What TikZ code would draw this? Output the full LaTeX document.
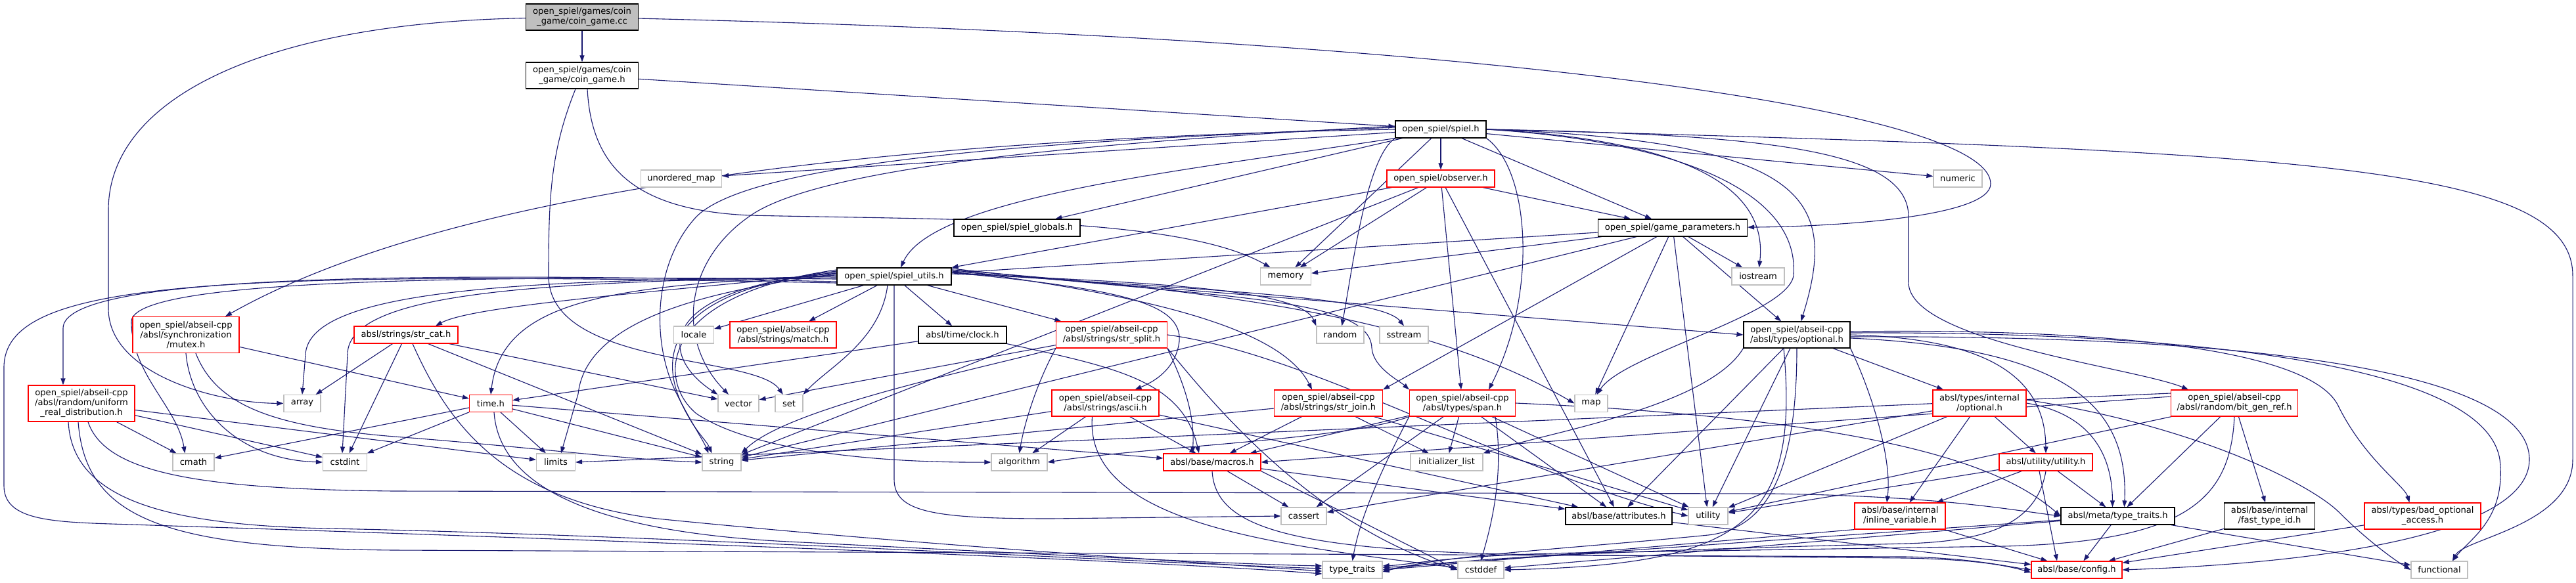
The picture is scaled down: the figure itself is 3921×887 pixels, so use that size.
\documentclass[tikz,border=0pt]{standalone}
\usepackage{fontspec}
\newfontfamily\dvs{DejaVu Sans}
\usetikzlibrary{arrows.meta}
\definecolor{edgec}{HTML}{191970}
\definecolor{extgray}{HTML}{BFBFBF}
\definecolor{rootgray}{HTML}{BFBFBF}
\pgfdeclarelayer{back}
\pgfdeclarelayer{edges}
\pgfsetlayers{back,edges,main}
\tikzset{
 box/.style={rectangle, inner sep=0pt, align=center, font=\dvs\fontsize{13.1pt}{15pt}\selectfont, line width=1.2pt, minimum height=26, fill=white},
 ext/.style={box, draw=extgray},
 trunc/.style={box, draw=red},
 full/.style={box, draw=black},
 root/.style={box, draw=black, fill=rootgray},
 e/.style={draw=edgec, line width=1.1pt, -{Triangle[length=10pt,width=7pt]}},
}
\begin{document}
\begin{tikzpicture}[x=1pt,y=-1pt]
\useasboundingbox (0,0) rectangle (3921,887);
\begin{pgfonlayer}{back}\fill[white] (0,0) rectangle (3921,887);\end{pgfonlayer}
% nodes
\node[root, minimum width=171, minimum height=40] (cc) at (886,26) {open\_spiel/games/coin\\\_game/coin\_game.cc};
\node[full, minimum width=171, minimum height=40] (ch) at (886,115) {open\_spiel/games/coin\\\_game/coin\_game.h};
\node[full, minimum width=138] (spiel) at (2193,197) {open\_spiel/spiel.h};
\node[trunc, minimum width=164] (obs) at (2193,272) {open\_spiel/observer.h};
\node[ext, minimum width=123] (umap) at (1037,272) {unordered\_map};
\node[ext, minimum width=74] (numeric) at (2980,272) {numeric};
\node[full, minimum width=192] (glob) at (1548,347) {open\_spiel/spiel\_globals.h};
\node[full, minimum width=174] (utils) at (1361,421) {open\_spiel/spiel\_utils.h};
\node[ext, minimum width=77] (memory) at (1957,421) {memory};
\node[full, minimum width=227] (gp) at (2546,347) {open\_spiel/game\_parameters.h};
\node[ext, minimum width=80] (iostream) at (2676,421) {iostream};
\node[ext, minimum width=72] (random) at (2040,510) {random};
\node[ext, minimum width=74] (sstream) at (2137,510) {sstream};
\node[full, minimum width=162, minimum height=40] (opt) at (2735,510) {open\_spiel/abseil-cpp\\/absl/types/optional.h};
\node[ext, minimum width=61] (locale) at (1056,510) {locale};
\node[trunc, minimum width=162, minimum height=40] (match) at (1192,510) {open\_spiel/abseil-cpp\\/absl/strings/match.h};
\node[full, minimum width=134] (clock) at (1465,510) {absl/time/clock.h};
\node[trunc, minimum width=169, minimum height=40] (split) at (1692,510) {open\_spiel/abseil-cpp\\/absl/strings/str\_split.h};
\node[trunc, minimum width=162, minimum height=55] (mutex) at (283,510) {open\_spiel/abseil-cpp\\/absl/synchronization\\/mutex.h};
\node[trunc, minimum width=158] (strcat) at (618,510) {absl/strings/str\_cat.h};
\node[trunc, minimum width=162, minimum height=55] (uniform) at (124,614.5) {open\_spiel/abseil-cpp\\/absl/random/uniform\\\_real\_distribution.h};
\node[ext, minimum width=56] (array) at (460,614.5) {array};
\node[trunc, minimum width=65] (time) at (747,614.5) {time.h};
\node[ext, minimum width=63] (cmath) at (294.5,704) {cmath};
\node[ext, minimum width=67] (cstdint) at (525,704) {cstdint};
\node[ext, minimum width=59] (limits) at (846,704) {limits};
\node[ext, minimum width=62] (vector) at (1124,614.5) {vector};
\node[ext, minimum width=42] (set) at (1201,614.5) {set};
\node[ext, minimum width=59] (string) at (1098.5,704) {string};
\node[ext, minimum width=85] (algorithm) at (1551.5,704) {algorithm};
\node[trunc, minimum width=163, minimum height=40] (ascii) at (1682.5,614) {open\_spiel/abseil-cpp\\/absl/strings/ascii.h};
\node[trunc, minimum width=148] (macros) at (1845,704) {absl/base/macros.h};
\node[trunc, minimum width=165, minimum height=40] (join) at (2022,614) {open\_spiel/abseil-cpp\\/absl/strings/str\_join.h};
\node[trunc, minimum width=161, minimum height=40] (span) at (2226,614) {open\_spiel/abseil-cpp\\/absl/types/span.h};
\node[ext, minimum width=50] (map) at (2422,614.5) {map};
\node[ext, minimum width=110] (initlist) at (2202,704) {initializer\_list};
\node[ext, minimum width=69] (cassert) at (1984.5,786) {cassert};
\node[full, minimum width=162] (attr) at (2464,786) {absl/base/attributes.h};
\node[ext, minimum width=60] (utility) at (2600,786) {utility};
\node[trunc, minimum width=138, minimum height=40] (inlinevar) at (2892,786) {absl/base/internal\\/inline\_variable.h};
\node[ext, minimum width=91] (typetraits) at (2058.5,868) {type\_traits};
\node[ext, minimum width=70] (cstddef) at (2254,868) {cstddef};
\node[trunc, minimum width=142, minimum height=40] (iopt) at (3013,614) {absl/types/internal\\/optional.h};
\node[trunc, minimum width=193, minimum height=40] (bitgen) at (3401,614) {open\_spiel/abseil-cpp\\/absl/random/bit\_gen\_ref.h};
\node[trunc, minimum width=142] (utilh) at (3114,704) {absl/utility/utility.h};
\node[full, minimum width=173] (metatt) at (3223.5,786) {absl/meta/type\_traits.h};
\node[full, minimum width=138, minimum height=40] (fastid) at (3454.5,786) {absl/base/internal\\/fast\_type\_id.h};
\node[trunc, minimum width=177, minimum height=40] (badopt) at (3687.5,786) {absl/types/bad\_optional\\\_access.h};
\node[trunc, minimum width=138] (config) at (3161,868) {absl/base/config.h};
\node[ext, minimum width=86] (functional) at (3713,868) {functional};
% edges
\begin{pgfonlayer}{edges}
% root
\draw[e] (cc) -- (ch);
\draw[e] (cc) .. controls (2300,60) and (3030,170) .. (3030,280) .. controls (3030,330) and (2800,345) .. (gp);
\draw[e] (cc) .. controls (400,35) and (165,150) .. (165,320) -- (165,470) .. controls (165,570) and (330,614) .. (array);
% coin_game.h
\draw[e] (ch) -- (spiel);
\draw[e] ([xshift=8]ch.south) .. controls (900,250) and (960,320) .. (1141,328) .. controls (1450,335) and (1800,330) .. (memory);
\draw[e] ([xshift=-10]ch.south) .. controls (838,230) and (835,300) .. (835,420) .. controls (835,560) and (1150,540) .. (set);
% spiel.h
\draw[e] (spiel) -- (obs);
\draw[e] (spiel) -- (umap);
\draw[e] (spiel) -- (numeric);
\draw[e] (spiel) -- (glob);
\draw[e] (spiel.south west) .. controls (1800,260) and (1420,300) .. ([xshift=10]utils.north);
\draw[e] (spiel) -- (memory);
\draw[e] (spiel) -- (gp);
\draw[e] (spiel.east) .. controls (2600,215) and (2690,300) .. (iostream);
\draw[e] (spiel.south west) .. controls (2080,240) and (2060,400) .. (random);
\draw[e] (spiel.east) .. controls (2750,215) and (2800,300) .. (opt);
\draw[e] (spiel.west) .. controls (1400,210) and (700,280) .. ([xshift=60]mutex.north);
\draw[e] ([yshift=3]spiel.west) .. controls (1650,212) and (1150,240) .. (1060,330) .. controls (995,400) and (990,520) .. (1030,600) .. controls (1050,640) and (1070,670) .. ([xshift=-20]string.north);
\draw[e] ([yshift=5]spiel.west) .. controls (1700,215) and (1250,250) .. (1140,330) .. controls (1040,400) and (1030,520) .. ([xshift=-15]vector.north);
\draw[e] (spiel.east) .. controls (2700,205) and (2905,230) .. (2905,330) -- (2905,430) .. controls (2905,520) and (3250,560) .. ([xshift=-70]bitgen.north);
\draw[e] (spiel.south east) .. controls (2330,260) and (2340,450) .. ([xshift=40]span.north);
\draw[e] (spiel.east) .. controls (2550,215) and (2740,290) .. (2730,420) .. controls (2720,480) and (2470,540) .. (map);
\draw[e] (spiel.east) .. controls (3500,230) and (3916,250) .. (3916,420) -- (3916,700) .. controls (3916,800) and (3750,820) .. ([xshift=20]functional.north);
% observer
\draw[e] (obs) -- (utils.north east);
\draw[e] (obs) -- (memory);
\draw[e] (obs) -- (gp);
\draw[e] (obs) -- (span);
\draw[e] (obs) -- (attr);
\draw[e] (obs) -- (string);
% game_parameters
\draw[e] (gp) -- (utils);
\draw[e] (gp) -- (memory);
\draw[e] (gp) -- (iostream);
\draw[e] (gp) -- (opt);
\draw[e] (gp) -- (join.north east);
\draw[e] (gp) -- (map);
\draw[e] (gp) -- (string);
\draw[e] (gp) -- (utility);
% spiel_utils
\draw[e] (utils) -- (locale);
\draw[e] (utils) -- (match);
\draw[e] (utils) -- (clock);
\draw[e] (utils) -- (split);
\draw[e] ([yshift=5]utils.west) .. controls (1000,445) and (720,465) .. ([xshift=45]strcat.north);
\draw[e] ([yshift=-8]utils.west) .. controls (600,413) and (96,420) .. (96,500) -- ([xshift=-28]uniform.north);
\draw[e] ([yshift=-4]utils.west) .. controls (700,420) and (200,425) .. (200,490) .. controls (200,570) and (270,620) .. ([xshift=-13]cmath.north);
\draw[e] ([yshift=-2]utils.west) .. controls (800,425) and (470,440) .. (465,540) -- (array.north);
\draw[e] (utils.west) .. controls (850,430) and (529,440) .. (529,540) -- ([xshift=-4]cstdint.north);
\draw[e] ([yshift=2]utils.west) .. controls (950,435) and (765,450) .. (time.north);
\draw[e] ([yshift=4]utils.west) .. controls (1100,440) and (893,480) .. (880,600) -- ([xshift=8]limits.north);
\draw[e] ([yshift=6]utils.west) .. controls (1000,440) and (1000,540) .. (vector.north west);
\draw[e] ([xshift=-10]utils.south) .. controls (1340,520) and (1260,560) .. (set.north east);
\draw[e] ([yshift=8]utils.west) .. controls (990,445) and (1010,560) .. (1040,620) .. controls (1060,660) and (1075,670) .. ([xshift=-15]string.north);
\draw[e] ([yshift=10]utils.west) .. controls (1000,450) and (1000,580) .. (1060,630) .. controls (1150,690) and (1350,705) .. (algorithm.west);
\draw[e] ([yshift=4]utils.east) .. controls (1750,430) and (1980,440) .. (random.north west);
\draw[e] ([yshift=6]utils.east) .. controls (1800,440) and (2100,450) .. (sstream.north);
\draw[e] ([yshift=8]utils.east) -- (opt.west);
\draw[e] ([yshift=10]utils.east) .. controls (1750,450) and (1950,500) .. ([xshift=-25]join.north);
\draw[e] ([yshift=12]utils.east) .. controls (1850,455) and (2085,450) .. (2088,530) .. controls (2090,560) and (2130,580) .. (span.north west);
\draw[e] ([yshift=10]utils.east) .. controls (1800,440) and (2150,470) .. (map.west);
\draw[e] ([yshift=6]utils.east) .. controls (1700,440) and (1800,460) .. (1795,520) .. controls (1790,560) and (1760,580) .. ([xshift=45]ascii.north);
\draw[e] (utils.south) -- (1361,730) .. controls (1361,780) and (1420,790) .. (1600,790) -- (cassert.west);
\draw[e] ([yshift=-10]utils.west) .. controls (300,411) and (6,430) .. (6,560) -- (6,740) .. controls (6,800) and (100,795) .. (230,800) .. controls (700,815) and (1700,850) .. ([yshift=-6]typetraits.west);
% mutex
\draw[e] (mutex) -- (time);
\draw[e] (mutex.south) .. controls (290,620) and (360,700) .. (cstdint.west);
\draw[e] ([xshift=15]mutex.south) .. controls (330,620) and (420,650) .. (600,665) .. controls (800,680) and (950,700) .. (string.west);
% str_cat
\draw[e] (strcat) -- (array);
\draw[e] (strcat) -- (cstdint);
\draw[e] (strcat) -- (string);
\draw[e] (strcat) -- (vector);
\draw[e] ([xshift=10]strcat.south) .. controls (680,640) and (760,760) .. (1000,790) .. controls (1400,830) and (1800,855) .. ([yshift=-2]typetraits.west);
% uniform
\draw[e] (uniform) -- (cmath);
\draw[e] (uniform) -- (cstdint);
\draw[e] (uniform) -- (limits);
\draw[e] ([xshift=-20]uniform.south) .. controls (110,760) and (250,800) .. (500,805) .. controls (1000,815) and (1700,855) .. ([yshift=2]typetraits.west);
\draw[e] ([xshift=10]uniform.south) .. controls (160,720) and (300,745) .. (600,748) -- (2700,752) .. controls (2950,756) and (3050,775) .. (metatt.west);
\draw[e] ([xshift=-5]uniform.south) .. controls (130,790) and (250,835) .. (600,838) -- (2900,848) .. controls (3000,850) and (3050,862) .. (config.west);
% time
\draw[e] (time) -- (cmath);
\draw[e] (time) -- (cstdint);
\draw[e] (time) -- (limits);
\draw[e] (time) -- (string);
\draw[e] (time) -- (macros);
\draw[e] ([xshift=5]time.south) .. controls (760,740) and (900,810) .. (1200,825) .. controls (1600,845) and (1900,860) .. ([yshift=6]typetraits.west);
% clock
\draw[e] (clock) -- (time);
\draw[e] (clock.south east) .. controls (1700,560) and (1800,580) .. ([xshift=-20]macros.north);
% str_split
\draw[e] (split) -- (vector);
\draw[e] (split.south west) .. controls (1500,560) and (1200,620) .. (string.north east);
\draw[e] (split.south west) .. controls (1580,580) and (1560,640) .. (algorithm.north);
\draw[e] (split.south east) .. controls (1790,560) and (1820,620) .. ([xshift=-30]macros.north);
\draw[e] (split.east) .. controls (2000,540) and (2300,720) .. (utility.west);
\draw[e] (split.south east) .. controls (1850,620) and (2000,800) .. (cstddef.west);
% ascii
\draw[e] (ascii) -- (algorithm);
\draw[e] (ascii) -- (string);
\draw[e] (ascii) -- (macros);
\draw[e] (ascii) -- (attr);
\draw[e] ([xshift=-20]ascii.south) .. controls (1650,800) and (1950,830) .. ([yshift=3]cstddef.west);
% str_join
\draw[e] (join) -- (macros);
\draw[e] (join) -- (string);
\draw[e] (join) -- (initlist);
\draw[e] (join) -- (utility);
% span
\draw[e] (span) -- (macros);
\draw[e] (span) -- (cassert);
\draw[e] (span.south west) .. controls (2100,720) and (2070,790) .. (typetraits.north);
\draw[e] ([xshift=50]span.south) .. controls (2290,720) and (2270,800) .. (cstddef.north);
\draw[e] (span) -- (initlist);
\draw[e] (span) -- (attr);
\draw[e] (span) -- (utility);
\draw[e] (span.south west) .. controls (2050,670) and (1750,680) .. (algorithm.east);
\draw[e] (span.east) .. controls (2900,640) and (3060,720) .. (metatt.west);
% optional.h
\draw[e] (opt) -- (iopt);
\draw[e] (opt.east) .. controls (3000,515) and (3113,560) .. (utilh.north);
\draw[e] (opt.south east) .. controls (2850,600) and (2880,700) .. ([xshift=-20]inlinevar.north);
\draw[e] ([yshift=-5]opt.east) .. controls (3150,530) and (3240,620) .. ([xshift=10]metatt.north);
\draw[e] ([yshift=5]opt.east) .. controls (3200,500) and (3520,530) .. (3560,620) .. controls (3600,700) and (3660,740) .. ([xshift=-20]badopt.north);
\draw[e] ([yshift=3]opt.east) .. controls (3250,505) and (3780,540) .. (3805,700) .. controls (3815,790) and (3760,820) .. ([xshift=20]functional.north);
\draw[e] ([yshift=-3]opt.east) .. controls (3400,510) and (3850,560) .. (3850,700) .. controls (3850,800) and (3600,855) .. (config.east);
\draw[e] (opt) -- (attr);
\draw[e] (opt) -- (utility);
\draw[e] (opt.south west) .. controls (2600,620) and (2350,660) .. (initlist.north east);
\draw[e] (opt.south) .. controls (2735,720) and (2690,805) .. (2600,815) .. controls (2400,835) and (2200,845) .. ([yshift=-3]typetraits.east);
\draw[e] ([xshift=-20]opt.south) .. controls (2740,800) and (2650,860) .. (cstddef.east);
% internal/optional.h
\draw[e] (iopt) -- (utilh);
\draw[e] (iopt) -- (inlinevar);
\draw[e] (iopt.east) .. controls (3180,630) and (3215,690) .. ([xshift=-8]metatt.north);
\draw[e] ([yshift=5]iopt.east) .. controls (3350,650) and (3520,740) .. (3560,780) .. controls (3600,820) and (3640,850) .. (functional.west);
\draw[e] (iopt) -- (cassert);
\draw[e] (iopt) -- (utility);
% utility.h
\draw[e] (utilh) -- (inlinevar);
\draw[e] (utilh) -- (metatt);
\draw[e] ([xshift=-10]utilh.south) -- ([xshift=-30]config.north);
\draw[e] (utilh) -- (utility);
\draw[e] (utilh.south) .. controls (3100,800) and (3020,825) .. (2900,828) .. controls (2500,838) and (2250,848) .. (typetraits.east);
% meta/type_traits
\draw[e] (metatt) -- (config);
\draw[e] (metatt) -- (functional);
\draw[e] (metatt) -- (typetraits);
\draw[e] (metatt) -- (cstddef);
% bit_gen_ref
\draw[e] (bitgen) -- (metatt);
\draw[e] (bitgen) -- (fastid);
\draw[e] (bitgen) -- (utility);
\draw[e] ([yshift=10]bitgen.west) -- (macros.east);
\draw[e] ([yshift=15]bitgen.west) -- (limits.east);
\draw[e] (bitgen.south) .. controls (3395,760) and (3330,825) .. (3050,832) -- (2400,842) .. controls (2200,846) and (2150,860) .. ([yshift=6]typetraits.east);
% others
\draw[e] (fastid) -- (config);
\draw[e] (badopt) -- (config);
\draw[e] (inlinevar) -- (config);
\draw[e] (inlinevar.south west) -- (typetraits.east);
\draw[e] (attr) -- (config);
\draw[e] (macros) -- (attr);
\draw[e] (macros) -- (cassert);
\draw[e] (macros.south east) -- (cstddef.west);
\draw[e] (macros.south) .. controls (1850,800) and (1950,840) .. (2350,845) -- (2900,850) .. controls (3000,852) and (3050,860) .. ([yshift=-4]config.west);
\end{pgfonlayer}
\end{tikzpicture}
\end{document}
